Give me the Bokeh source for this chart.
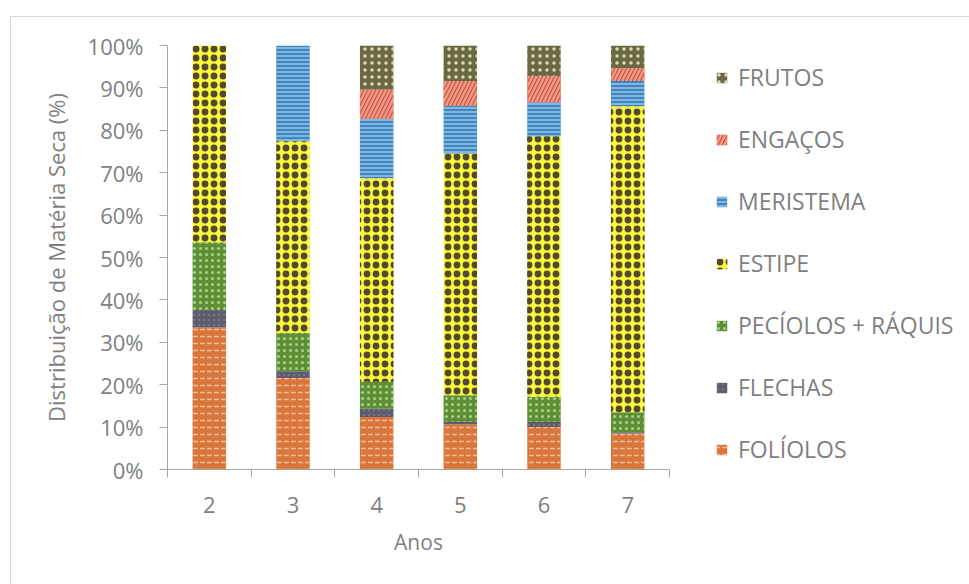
from bokeh.plotting import figure
from bokeh.models import (ColumnDataSource, FixedTicker, Legend, LegendItem,
                          PrintfTickFormatter, Range1d)
from bokeh.transform import stack
from bokeh.embed import file_html
from bokeh.resources import INLINE

# Dry-matter distribution (%) by plant age (years)
years = [2, 3, 4, 5, 6, 7]
folíolos = [33.5, 21.6, 12.4, 10.7, 10.0, 8.5]
flechas = [4.1, 1.6, 1.9, 0.5, 1.2, 0.3]
pecíolos_ráquis = [16.0, 9.0, 6.4, 6.3, 5.9, 4.7]
estipe = [46.4, 45.2, 48.0, 57.0, 61.5, 72.2]
meristema = [0.0, 22.6, 14.0, 11.3, 8.0, 5.9]
engaços = [0.0, 0.0, 6.9, 5.8, 6.2, 3.1]
frutos = [0.0, 0.0, 10.4, 8.4, 7.2, 5.3]

series_names = ["FOLÍOLOS", "FLECHAS", "PECÍOLOS + RÁQUIS", "ESTIPE",
                "MERISTEMA", "ENGAÇOS", "FRUTOS"]
keys = ["fol", "fle", "pec", "est", "mer", "eng", "fru"]

src = ColumnDataSource(dict(x=years, fol=folíolos, fle=flechas, pec=pecíolos_ráquis,
                            est=estipe, mer=meristema, eng=engaços, fru=frutos))

fills = ["#d8763c", "#5c5c6c", "#5e8f38", "#fbfb3c", "#3f86c4", "#c9503f", "#6b6943"]
hatches = ["horizontal_dash", "dot", "dot", "ring", "horizontal_line",
           "right_diagonal_line", "dot"]
hatch_colors = ["#f4bd9a", "#76768a", "#a9d384", "#55482c", "#c8e6f7", "#f29a88", "#dcdcb8"]
hatch_scales = [7, 5, 6, 9, 4, 8, 7]
hatch_weights = [1.5, 1, 1, 2.3, 1, 2.5, 1.5]

FONT = "Open Sans"
TXT = "#7f7f7f"
AX = "#a6a6a6"

p = figure(frame_width=502, frame_height=424, output_backend="svg", toolbar_location=None,
           x_range=Range1d(1.5, 7.5), y_range=Range1d(0, 100),
           min_border_left=156, min_border_right=0, min_border_top=28,
           min_border_bottom=115,
           styles={"margin-left": "10px", "margin-top": "16px",
                   "border-left": "1px solid #d8d8d8",
                   "border-top": "1px solid #d8d8d8"})
p.outline_line_color = None
p.grid.grid_line_color = None

renderers = p.vbar_stack(keys, x="x", width=0.4, source=src, line_color=None,
                         fill_color=fills, hatch_pattern=hatches,
                         hatch_color=hatch_colors, hatch_scale=hatch_scales,
                         hatch_weight=hatch_weights)

# fill the centres of the stem rings so they read as solid dots
stem_dots = p.vbar(x="x", width=0.4, source=src, line_color=None, fill_alpha=0,
                   bottom=stack("fol", "fle", "pec"),
                   top=stack("fol", "fle", "pec", "est"),
                   hatch_pattern="dot", hatch_scale=9, hatch_color="#55482c")

# x axis: labels at the bar centres, ticks between the bars
p.xaxis.ticker = FixedTicker(ticks=years, minor_ticks=[y - 0.5 for y in years] + [years[-1] + 0.5])
p.xaxis.major_tick_out = 0
p.xaxis.major_tick_in = 0
p.xaxis.minor_tick_out = 8
p.xaxis.minor_tick_in = 0
p.xaxis.minor_tick_line_color = AX
p.xaxis.axis_label = "Anos"
p.xaxis.major_label_standoff = 19
p.xaxis.axis_label_standoff = 12

p.yaxis.ticker = FixedTicker(ticks=list(range(0, 101, 10)))
p.yaxis.formatter = PrintfTickFormatter(format="%d%%")
p.yaxis.major_tick_out = 8
p.yaxis.major_tick_in = 0
p.yaxis.minor_tick_out = 0
p.yaxis.minor_tick_in = 0
p.yaxis.axis_label = "Distribuição de Matéria Seca (%)"
p.yaxis.major_label_standoff = 16
p.yaxis.axis_label_standoff = 14

for ax in (p.xaxis, p.yaxis):
    ax.axis_line_color = AX
    ax.major_tick_line_color = AX
    ax.major_label_text_font = FONT
    ax.major_label_text_font_size = "22px"
    ax.major_label_text_color = TXT
    ax.axis_label_text_font = FONT
    ax.axis_label_text_font_style = "normal"
    ax.axis_label_text_color = TXT
p.xaxis.axis_label_text_font_size = "21px"
p.yaxis.axis_label_text_font_size = "22px"

items = []
for n, r in zip(series_names, renderers):
    rs = [r, stem_dots] if n == "ESTIPE" else [r]
    items.append(LegendItem(label=n, renderers=rs))
legend = Legend(items=list(reversed(items)), location=(46, 4),
                glyph_width=13, glyph_height=13, label_standoff=10,
                spacing=30, label_height=30, padding=0, margin=0,
                border_line_color=None, background_fill_alpha=0,
                label_text_font=FONT, label_text_font_size="23px",
                label_text_color=TXT)
p.add_layout(legend, "right")

open("out.html", "w").write(file_html(p, INLINE))
